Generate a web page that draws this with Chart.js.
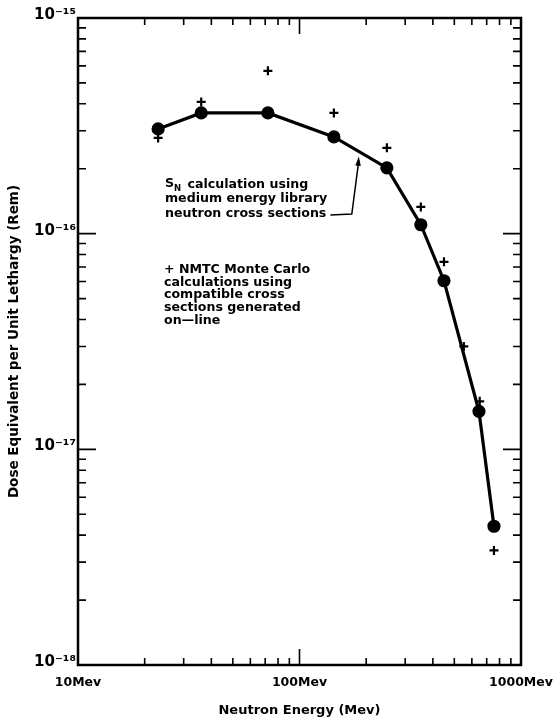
<!DOCTYPE html>
<html>
<head>
<meta charset="utf-8">
<script src="https://cdn.jsdelivr.net/npm/chart.js@4/dist/chart.umd.min.js"></script>
<style>
  html, body { margin: 0; padding: 0; background: #fff; }
  #caixa { width: 556px; height: 722px; }
</style>
</head>
<body>
<div id="caixa"><canvas id="grafico"></canvas></div>
<script>
// energia dos neutrons (MeV) e dose equivalente (Rem)
const energiaSn = [23, 36, 72, 143, 248, 353, 449, 646, 755];
const doseSn = [3.06e-16, 3.63e-16, 3.63e-16, 2.81e-16, 2.02e-16, 1.10e-16, 6.05e-17, 1.50e-17, 4.4e-18];

const energiaNmtc = [23, 36, 72, 143, 248, 353, 449, 552, 651, 755];
const doseNmtc = [2.78e-16, 4.08e-16, 5.69e-16, 3.63e-16, 2.50e-16, 1.33e-16, 7.4e-17, 3.0e-17, 1.67e-17, 3.4e-18];

const ticksX = [10, 100, 1000];
const rotulosX = ["10Mev", "100Mev", "1000Mev"];
const ticksY = [1e-18, 1e-17, 1e-16, 1e-15];
const rotulosY = ["10⁻¹⁸", "10⁻¹⁷", "10⁻¹⁶", "10⁻¹⁵"];

const fonte = "'DejaVu Sans', sans-serif";

// marcas internas (principais e secundarias) + moldura
const marcasPlugin = {
  id: "marcas",
  afterDatasetsDraw(chart) {
    const { ctx, chartArea: a, scales: { x, y } } = chart;
    ctx.save();
    ctx.strokeStyle = "#000";
    ctx.lineWidth = 2.5;
    ctx.strokeRect(a.left, a.top, a.right - a.left, a.bottom - a.top);
    ctx.lineWidth = 1.6;
    ctx.beginPath();
    for (let d = 10; d < 1000; d *= 10) {
      for (let k = 1; k <= 9; k++) {
        const px = x.getPixelForValue(k * d);
        const len = k === 1 ? 16 : 7;
        ctx.moveTo(px, a.bottom); ctx.lineTo(px, a.bottom - len);
        ctx.moveTo(px, a.top); ctx.lineTo(px, a.top + len);
      }
    }
    for (let d = 1e-18; d < 1e-15 * 0.99; d *= 10) {
      for (let k = 1; k <= 9; k++) {
        const py = y.getPixelForValue(k * d);
        const len = k === 1 ? 18 : 8;
        ctx.moveTo(a.left, py); ctx.lineTo(a.left + len, py);
        ctx.moveTo(a.right, py); ctx.lineTo(a.right - len, py);
      }
    }
    ctx.stroke();
    ctx.restore();
  }
};

// textos explicativos e seta
const notasPlugin = {
  id: "notas",
  afterDraw(chart) {
    const { ctx, scales: { x, y } } = chart;
    ctx.save();
    ctx.fillStyle = "#000";
    ctx.strokeStyle = "#000";
    ctx.textBaseline = "middle";
    ctx.textAlign = "left";
    ctx.font = "bold 12.6px " + fonte;

    // S_N
    ctx.fillText("S", 165, 184);
    const ws = ctx.measureText("S").width;
    ctx.font = "bold 8.5px " + fonte;
    ctx.fillText("N", 165 + ws, 189);
    const wn = ctx.measureText("N").width;
    ctx.font = "bold 12.6px " + fonte;
    ctx.fillText(" calculation using", 165 + ws + wn + 2, 185);
    ctx.fillText("medium energy library", 165, 199);
    ctx.fillText("neutron cross sections", 165, 214);
    const fim = 165 + ctx.measureText("neutron cross sections").width;

    // seta ate a curva entre o 4o e o 5o ponto
    const x4 = x.getPixelForValue(energiaSn[3]), y4 = y.getPixelForValue(doseSn[3]);
    const x5 = x.getPixelForValue(energiaSn[4]), y5 = y.getPixelForValue(doseSn[4]);
    const px = x4 + (x5 - x4) * 0.47;
    const py = y4 + (y5 - y4) * 0.47 + 5;
    ctx.lineWidth = 1.5;
    ctx.beginPath();
    ctx.moveTo(fim + 4, 215);
    ctx.lineTo(px - 7, 214);
    ctx.lineTo(px, py + 4);
    ctx.stroke();
    ctx.beginPath();
    ctx.moveTo(px, py);
    ctx.lineTo(px - 3.5, py + 9);
    ctx.lineTo(px + 2, py + 9.5);
    ctx.closePath();
    ctx.fill();

    const linhas = ["+ NMTC Monte Carlo", "calculations using", "compatible cross", "sections generated", "on\u2014line"];
    linhas.forEach((t, i) => ctx.fillText(t, 164, 270 + i * 12.6));
    ctx.restore();
  }
};

const ctx = document.getElementById("grafico").getContext("2d");
const grafico = new Chart(ctx, {
  type: "scatter",
  data: {
    datasets: [
      {
        label: "SN",
        data: energiaSn.map((e, i) => ({ x: e, y: doseSn[i] })),
        showLine: true,
        borderColor: "#000",
        backgroundColor: "#000",
        borderWidth: 3.2,
        pointRadius: 5,
        pointStyle: "circle",
        tension: 0
      },
      {
        label: "NMTC",
        data: energiaNmtc.map((e, i) => ({ x: e, y: doseNmtc[i] })),
        showLine: false,
        borderColor: "#000",
        backgroundColor: "#000",
        pointStyle: "cross",
        pointRadius: 4.5,
        pointBorderWidth: 2.2
      }
    ]
  },
  options: {
    responsive: true,
    maintainAspectRatio: false,
    animation: false,
    layout: { padding: { top: 18, right: 35, left: 0, bottom: 0 } },
    plugins: {
      legend: { display: false },
      tooltip: { enabled: false }
    },
    scales: {
      x: {
        type: "logarithmic",
        min: 10,
        max: 1000,
        afterBuildTicks: s => { s.ticks = ticksX.map(v => ({ value: v })); },
        afterFit: s => { s.height = 57; s.paddingLeft = 0; s.paddingRight = 0; },
        grid: { display: false, drawTicks: false },
        border: { display: false },
        ticks: {
          autoSkip: false,
          maxRotation: 0,
          padding: 10,
          color: "#000",
          font: { family: fonte, weight: "bold", size: 12.5 },
          callback: (v, i) => rotulosX[i]
        },
        title: {
          display: true,
          text: "Neutron Energy (Mev)",
          color: "#000",
          font: { family: fonte, weight: "bold", size: 13 },
          padding: { top: 0, bottom: 4 }
        }
      },
      y: {
        type: "logarithmic",
        min: 1e-18,
        max: 1e-15,
        afterBuildTicks: s => { s.ticks = ticksY.map(v => ({ value: v })); },
        afterFit: s => { s.width = 78; s.paddingTop = 0; s.paddingBottom = 0; },
        grid: { display: false, drawTicks: false },
        border: { display: false },
        ticks: {
          autoSkip: false,
          padding: 2,
          labelOffset: -3,
          color: "#000",
          font: { family: fonte, weight: "bold", size: 15 },
          callback: (v, i) => rotulosY[i]
        },
        title: {
          display: true,
          text: "Dose Equivalent per Unit Lethargy (Rem)",
          color: "#000",
          font: { family: fonte, weight: "bold", size: 13.5 },
          padding: { top: 6, bottom: 0 }
        }
      }
    }
  },
  plugins: [marcasPlugin, notasPlugin]
});
</script>
</body>
</html>
